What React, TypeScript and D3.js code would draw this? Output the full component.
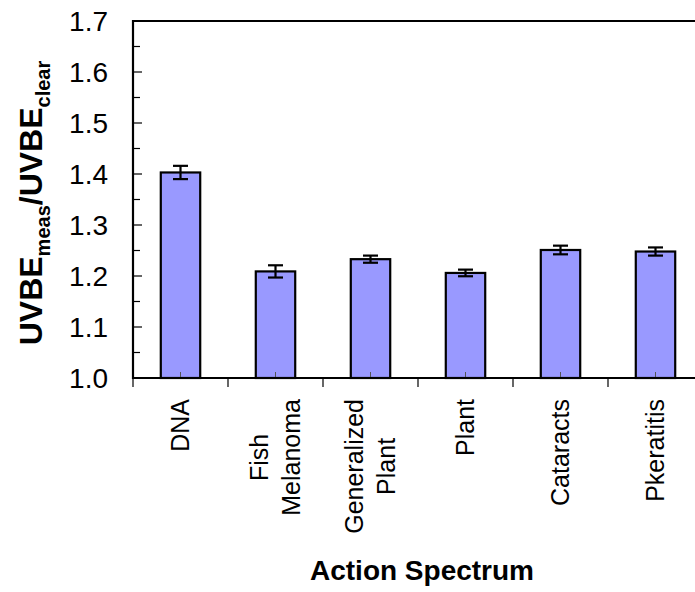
import React from "react";
import * as d3 from "d3";

// Action spectra and their UVBE ratios (mean ± error)
const categories: string[][] = [
  ["DNA"],
  ["Fish", "Melanoma"],
  ["Generalized", "Plant"],
  ["Plant"],
  ["Cataracts"],
  ["Pkeratitis"],
];
const ratios = [1.403, 1.209, 1.233, 1.206, 1.251, 1.248];
const errors = [0.013, 0.012, 0.007, 0.0065, 0.0085, 0.008];
const yTicks = [1.0, 1.1, 1.2, 1.3, 1.4, 1.5, 1.6, 1.7];
const yMinorTicks = [1.05, 1.15, 1.25, 1.35, 1.45, 1.55, 1.65];

const W = 695;
const H = 592;
const left = 133;
const top = 21;
const right = 703;
const bottom = 378;
const font = "Liberation Sans, Arial, Helvetica, sans-serif";
const catFontSize = 25;

let ctx: CanvasRenderingContext2D | null = null;
function textWidth(s: string, size: number): number {
  if (!ctx) ctx = document.createElement("canvas").getContext("2d");
  if (!ctx) return s.length * size * 0.55;
  ctx.font = `${size}px "Liberation Sans", Arial, sans-serif`;
  return ctx.measureText(s).width;
}

export default function App() {
  const keys = categories.map((c) => c.join(" "));
  const x = d3.scaleBand<string>().domain(keys).range([left, right]).paddingInner(0).paddingOuter(0);
  const y = d3.scaleLinear().domain([1.0, 1.7]).range([bottom, top]);
  const bw = x.bandwidth();
  const barW = bw * 0.415;
  const capW = 15;
  const lineGap = 32;
  const labelTop = 399;

  return (
    <svg width={W} height={H} style={{ position: "absolute", left: 0, top: 0, background: "#fff" }} fontFamily={font}>
      {/* plot frame top */}
      <line x1={left} x2={W} y1={top} y2={top} stroke="#000" strokeWidth={2.2} />

      {/* bars */}
      {keys.map((k, i) => {
        const cx = x(k)! + bw / 2;
        return (
          <g key={k}>
            <rect x={cx - barW / 2} y={y(ratios[i])} width={barW} height={bottom - y(ratios[i])} fill="#9999FF" stroke="#000" strokeWidth={2.2} />
            <line x1={cx} x2={cx} y1={bottom} y2={bottom - 6} stroke="#555" strokeWidth={1} />
            {/* error bar */}
            <line x1={cx} x2={cx} y1={y(ratios[i] + errors[i])} y2={y(ratios[i] - errors[i])} stroke="#000" strokeWidth={2.2} />
            <line x1={cx - capW / 2} x2={cx + capW / 2} y1={y(ratios[i] + errors[i])} y2={y(ratios[i] + errors[i])} stroke="#000" strokeWidth={2.2} />
            <line x1={cx - capW / 2} x2={cx + capW / 2} y1={y(ratios[i] - errors[i])} y2={y(ratios[i] - errors[i])} stroke="#000" strokeWidth={2.2} />
          </g>
        );
      })}

      {/* y axis */}
      <line x1={left} x2={left} y1={top - 1} y2={bottom + 1} stroke="#000" strokeWidth={2.2} />
      {yTicks.map((t) => (
        <g key={t}>
          <line x1={left} x2={left + 9} y1={y(t)} y2={y(t)} stroke="#000" strokeWidth={1.2} />
          <text x={108} y={y(t)} dy="0.36em" textAnchor="end" fontSize={28} fill="#000">
            {d3.format(".1f")(t)}
          </text>
        </g>
      ))}
      {yMinorTicks.map((t) => (
        <line key={t} x1={left} x2={left + 7} y1={y(t)} y2={y(t)} stroke="#000" strokeWidth={1.2} />
      ))}

      {/* x axis */}
      <line x1={left - 1} x2={W} y1={bottom} y2={bottom} stroke="#000" strokeWidth={2.2} />
      {keys.map((k) => (
        <line key={k} x1={x(k)!} x2={x(k)!} y1={bottom} y2={bottom + 9} stroke="#000" strokeWidth={1.2} />
      ))}

      {/* category labels: rotated, lines centred on each other, block hanging from the axis */}
      {categories.map((lines, i) => {
        const cx = x(keys[i])! + bw / 2;
        const block = Math.max(...lines.map((ln) => textWidth(ln, catFontSize)));
        const cy = labelTop + block / 2;
        return lines.map((ln, j) => {
          const bx = cx + 8.5 + (j - (lines.length - 1) / 2) * lineGap;
          return (
            <text key={ln + j} transform={`translate(${bx},${cy}) rotate(-90)`} textAnchor="middle" fontSize={catFontSize} fill="#000">
              {ln}
            </text>
          );
        });
      })}

      {/* axis titles */}
      <text x={422} y={580} textAnchor="middle" fontSize={28} fontWeight="bold" fill="#000">
        Action Spectrum
      </text>
      <text transform={`translate(42,203) rotate(-90)`} textAnchor="middle" fontSize={32} fontWeight="bold" fill="#000">
        UVBE
        <tspan fontSize={20} dy={8}>meas</tspan>
        <tspan dy={-8}>/UVBE</tspan>
        <tspan fontSize={20} dy={8}>clear</tspan>
      </text>
    </svg>
  );
}
